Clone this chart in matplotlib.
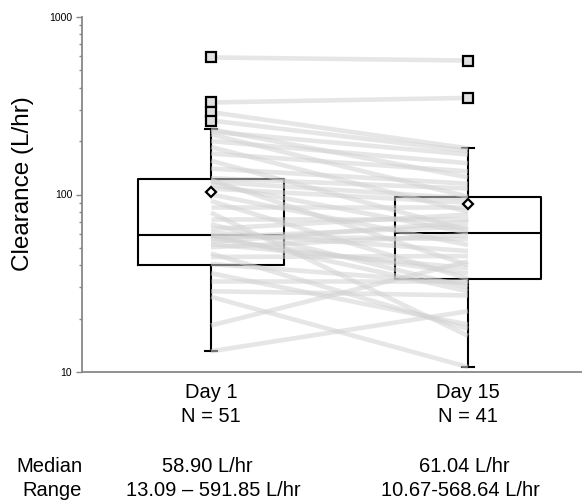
import numpy as np
import matplotlib
matplotlib.use("Agg")
import matplotlib.pyplot as plt
import matplotlib.transforms as mtransforms

plt.rcParams['font.family'] = ['Liberation Sans', 'DejaVu Sans']

# Clearance (L/hr) per subject, the first 41 are paired with day 15
day1_paired = [591.85, 330, 291, 261, 233, 226, 218, 200, 185, 170, 155, 140,
               123.5, 120.5, 118, 114, 108, 100, 92, 85, 79, 73, 68, 64, 61,
               58.9, 58.3, 57.5, 56.5, 54, 52.5, 50.5, 46.5, 44.5, 40.6, 36,
               32.5, 28.5, 26.5, 18.3, 13.09]
day15 = [568.64, 350, 182, 176, 125, 168, 97.2, 150, 80, 135, 63, 115,
         108, 40, 95, 61.04, 90, 52, 33.5, 85, 16, 73, 30, 77, 48,
         28.5, 56, 66, 36, 70, 38.5, 59, 17.5, 45, 31.5, 18.5,
         32.5, 27, 10.67, 42, 22]
day1_only = [17.5, 22.0, 30.5, 34.5, 37.5, 38.8, 39.8, 42.5, 48.5, 55.5]
day1 = day1_paired + day1_only

groups = ["Day 1", "Day 15"]
n_labels = ["N = 51", "N = 41"]
median_txt = ["58.90 L/hr", "61.04 L/hr"]
range_txt = ["13.09 \u2013 591.85 L/hr", "10.67-568.64 L/hr"]

W, H = 582, 501
fig = plt.figure(figsize=(W / 100, H / 100), dpi=100)
ax = fig.add_axes([82 / W, 1 - 372 / H, 1 - 82 / W, (372 - 17) / H])

pos = [1, 2]
bp = ax.boxplot([day1, day15], positions=pos, widths=0.57, whis=1.5,
                showmeans=True, capwidths=0.05, patch_artist=False,
                boxprops=dict(color='black', linewidth=1.5),
                medianprops=dict(color='black', linewidth=1.5),
                whiskerprops=dict(color='black', linewidth=1.5),
                capprops=dict(color='black', linewidth=1.5),
                meanprops=dict(marker='D', markerfacecolor='white',
                               markeredgecolor='black', markersize=5,
                               markeredgewidth=1.6),
                flierprops=dict(marker='s', markerfacecolor='#e0e0e0',
                                markeredgecolor='black', markersize=7,
                                markeredgewidth=1.6))
for k in ['boxes', 'medians', 'whiskers', 'caps']:
    for a in bp[k]:
        a.set_zorder(2)
for a in bp['fliers'] + bp['means']:
    a.set_zorder(5)

# paired lines
for a, b in zip(day1_paired, day15):
    ax.plot(pos, [a, b], color='#d2d2d2', lw=3.3, alpha=0.55,
            solid_capstyle='butt', zorder=3)

ax.set_yscale('log')
ax.set_ylim(10, 1000)
ax.set_xlim(0.498, 2.4436)
ax.set_yticks([10, 100, 1000])
ax.set_yticklabels(['10', '100', '1000'], fontsize=7.5)
ax.yaxis.set_minor_formatter(matplotlib.ticker.NullFormatter())
ax.tick_params(axis='y', which='major', length=4, width=1, color='#888888', pad=3)
ax.tick_params(axis='y', which='minor', length=2.5, width=1, color='#888888')
ax.set_xticks([])
for s in ['top', 'right']:
    ax.spines[s].set_visible(False)
for s in ['left', 'bottom']:
    ax.spines[s].set_color('#888888')
    ax.spines[s].set_linewidth(1.3)

ax.set_ylabel('Clearance (L/hr)', fontsize=17.5)
ax.yaxis.set_label_coords(-0.096, 0.532)

trans = mtransforms.blended_transform_factory(ax.transData, fig.transFigure)
fs = 14.5
for i, p in enumerate(pos):
    ax.text(p, 1 - 393 / H, groups[i], transform=trans, ha='center', va='center', fontsize=fs)
    ax.text(p, 1 - 416 / H, n_labels[i], transform=trans, ha='center', va='center', fontsize=fs)
    ax.text(p - 0.015, 1 - 467 / H, median_txt[i], transform=trans, ha='center', va='center', fontsize=fs)
    ax.text(p + (0.01 if i == 0 else -0.03), 1 - 490 / H, range_txt[i], transform=trans,
            ha='center', va='center', fontsize=fs)

fig.text(82 / W, 1 - 467 / H, 'Median', ha='right', va='center', fontsize=fs)
fig.text(82 / W, 1 - 490 / H, 'Range', ha='right', va='center', fontsize=fs)

fig.savefig('out.png', dpi=100)
